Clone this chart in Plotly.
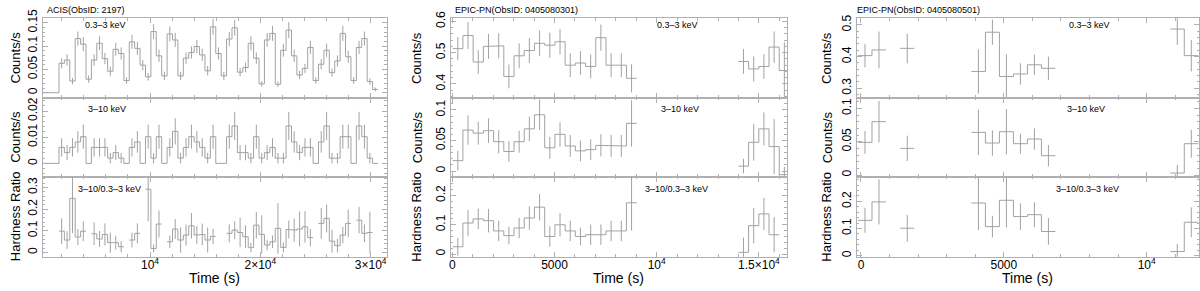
import plotly.graph_objects as go

# ---------------- DATA ----------------
# Panel 1: ACIS (ObsID: 2197), 490 s bins
p1_bin = 490
p1_pre_time = [0, 1750]      # zero level before the first bin
p1_pre_rate = [0, 0]
p1_time = [1995, 2485, 2975, 3465, 3955, 4445, 4935, 5425, 5915, 6405,
           6895, 7385, 7875, 8365, 8855, 9345, 9835, 10325, 10815, 11305,
           11795, 12285, 12775, 13265, 13755, 14245, 14735, 15225, 15715, 16205,
           16695, 17185, 17675, 18165, 18655, 19145, 19635, 20125, 20615, 21105,
           21595, 22085, 22575, 23065, 23555, 24045, 24535, 25025, 25515, 26005,
           26495, 26985, 27475, 27965, 28455, 28945, 29435, 29925, 30415]
p1_soft = [0.063, 0.070, 0.025, 0.116, 0.104, 0.029, 0.070, 0.106, 0.073, 0.046,
           0.093, 0.084, 0.026, 0.109, 0.095, 0.059, 0.034, 0.131, 0.079, 0.036,
           0.126, 0.113, 0.036, 0.074, 0.086, 0.099, 0.081, 0.047, 0.141, 0.084,
           0.036, 0.115, 0.139, 0.044, 0.054, 0.106, 0.074, 0.019, 0.113, 0.127,
           0.018, 0.091, 0.134, 0.079, 0.038, 0.052, 0.097, 0.026, 0.061, 0.091,
           0.043, 0.068, 0.127, 0.077, 0.026, 0.097, 0.116, 0.024, 0.007]
p1_soft_err = [0.011, 0.012, 0.007, 0.015, 0.015, 0.008, 0.012, 0.015, 0.012, 0.010,
               0.014, 0.013, 0.007, 0.015, 0.014, 0.011, 0.008, 0.016, 0.013, 0.009,
               0.016, 0.015, 0.009, 0.012, 0.013, 0.014, 0.013, 0.010, 0.017, 0.013,
               0.009, 0.015, 0.017, 0.009, 0.010, 0.015, 0.012, 0.006, 0.015, 0.016,
               0.006, 0.014, 0.017, 0.013, 0.009, 0.010, 0.014, 0.007, 0.011, 0.014,
               0.009, 0.012, 0.016, 0.013, 0.007, 0.014, 0.015, 0.007, 0.004]
p1_hard = [0.0061, 0.0041, 0.0061, 0.0082, 0.0102, 0, 0.0061, 0.0061, 0.0061, 0.0020,
           0.0041, 0.0020, 0, 0.0061, 0.0082, 0, 0.0102, 0.0020, 0.0102, 0,
           0.0061, 0.0122, 0.0020, 0.0061, 0.0102, 0.0082, 0.0061, 0.0020, 0.0102, 0,
           0, 0.0102, 0.0143, 0.0041, 0.0041, 0.0020, 0.0102, 0.0020, 0.0041, 0.0061,
           0.0020, 0.0020, 0.0143, 0.0082, 0.0041, 0.0061, 0.0061, 0, 0.0082, 0.0143,
           0.0020, 0.0020, 0.0102, 0.0102, 0, 0.0143, 0.0102, 0.0020, 0]
p1_hard_err = [0.0035, 0.0029, 0.0035, 0.0041, 0.0046, 0, 0.0035, 0.0035, 0.0035, 0.0020,
               0.0029, 0.0020, 0, 0.0035, 0.0041, 0, 0.0046, 0.0020, 0.0046, 0,
               0.0035, 0.0050, 0.0020, 0.0035, 0.0046, 0.0041, 0.0035, 0.0020, 0.0046, 0,
               0, 0.0046, 0.0054, 0.0029, 0.0029, 0.0020, 0.0046, 0.0020, 0.0029, 0.0035,
               0.0020, 0.0020, 0.0054, 0.0041, 0.0029, 0.0035, 0.0035, 0, 0.0041, 0.0054,
               0.0020, 0.0020, 0.0046, 0.0046, 0, 0.0054, 0.0046, 0.0020, 0]
p1_hr = [0.098, 0.057, 0.250, 0.071, 0.098, None, 0.086, 0.062, 0.083, 0.045,
         0.045, 0.026, None, 0.057, 0.088, None, 0.292, 0.018, 0.131, None,
         0.049, 0.108, 0.057, 0.080, 0.123, 0.080, 0.083, 0.057, 0.074, None,
         None, 0.088, 0.103, 0.092, 0.072, 0.022, 0.126, 0.083, 0.034, 0.049,
         0.111, 0.023, 0.106, 0.103, 0.108, 0.118, 0.068, None, 0.134, 0.157,
         0.052, 0.031, 0.080, 0.134, None, 0.149, 0.088, 0.092, None]
p1_hr_err = [0.059, 0.041, 0.161, 0.037, 0.046, None, 0.052, 0.037, 0.051, 0.046,
             0.032, 0.026, None, 0.034, 0.046, None, 0.149, 0.018, 0.063, None,
             0.029, 0.046, 0.059, 0.049, 0.059, 0.042, 0.050, 0.058, 0.035, None,
             None, 0.041, 0.041, 0.068, 0.053, 0.022, 0.061, 0.088, 0.024, 0.029,
             0.117, 0.023, 0.042, 0.054, 0.081, 0.073, 0.040, None, 0.071, 0.064,
             0.053, 0.031, 0.038, 0.064, None, 0.061, 0.041, 0.096, None]

# Panel 2: EPIC-PN (ObsID: 0405080301), 500 s bins
p2_bin = 500
p2_time = [270, 770, 1270, 1770, 2270, 2770, 3270, 3770, 4270, 4770, 5270, 5770,
           6270, 6770, 7270, 7770, 8270, 8770, 14245, 14745, 15245, 15745, 16245]
p2_soft = [0.513, 0.555, 0.470, 0.520, 0.522, 0.424, 0.490, 0.507, 0.530, 0.524,
           0.535, 0.460, 0.467, 0.456, 0.548, 0.460, 0.460, 0.418,
           0.472, 0.448, 0.456, 0.518, 0.443]
p2_soft_err = [0.037, 0.043, 0.038, 0.040, 0.040, 0.038, 0.040, 0.040, 0.041, 0.040,
               0.041, 0.038, 0.038, 0.038, 0.042, 0.038, 0.038, 0.045,
               0.040, 0.040, 0.040, 0.050, 0.090]
p2_hard = [0.017, 0.067, 0.062, 0.066, 0.048, 0.032, 0.048, 0.069, 0.092, 0.038,
           0.060, 0.041, 0.033, 0.035, 0.042, 0.041, 0.041, 0.078,
           0.008, 0.047, 0.069, 0.040, -0.006]
p2_hard_err = [0.016, 0.024, 0.019, 0.020, 0.019, 0.017, 0.018, 0.020, 0.025, 0.018,
               0.020, 0.018, 0.017, 0.017, 0.018, 0.018, 0.018, 0.038,
               0.012, 0.030, 0.027, 0.045, 0.013]
p2_hr = [0.025, 0.106, 0.120, 0.114, 0.079, 0.063, 0.089, 0.123, 0.160, 0.060,
         0.100, 0.079, 0.060, 0.066, 0.066, 0.079, 0.079, 0.175,
         0.006, 0.097, 0.137, 0.066, None]
p2_hr_err = [0.030, 0.045, 0.035, 0.040, 0.035, 0.030, 0.035, 0.040, 0.045, 0.035,
             0.040, 0.035, 0.030, 0.035, 0.035, 0.035, 0.035, 0.095,
             0.050, 0.060, 0.055, 0.060, None]

# Panel 3: EPIC-PN (ObsID: 0405080501), 490 s bins
p3_bin = 490
p3_time = [140, 630, 1620, 4110, 4600, 5090, 5580, 6070, 6560, 11070, 11560]
p3_soft = [0.403, 0.421, 0.426, 0.353, 0.477, 0.337, 0.345, 0.374, 0.363, 0.487, 0.403]
p3_soft_err = [0.037, 0.058, 0.047, 0.070, 0.040, 0.070, 0.034, 0.032, 0.037, 0.050, 0.050]
p3_hard = [0.049, 0.080, 0.040, 0.064, 0.048, 0.065, 0.047, 0.054, 0.029, 0.003, 0.047]
p3_hard_err = [0.017, 0.031, 0.019, 0.034, 0.019, 0.034, 0.015, 0.016, 0.016, 0.012, 0.021]
p3_hr = [0.130, 0.198, 0.101, 0.194, 0.107, 0.204, 0.144, 0.151, 0.089, 0.015, 0.123]
p3_hr_err = [0.046, 0.083, 0.049, 0.100, 0.040, 0.100, 0.049, 0.046, 0.049, 0.028, 0.055]

titles = ["ACIS(ObsID: 2197)", "EPIC-PN(ObsID: 0405080301)", "EPIC-PN(ObsID: 0405080501)"]
band_labels = ["0.3\u20133 keV", "3\u201310 keV", "3\u201310/0.3\u20133 keV"]
y_titles = ["Counts/s", "Counts/s", "Hardness Ratio"]
x_title = "Time (s)"

p1_xticks = [10000, 20000, 30000]
p1_xtext = ["10<sup>4</sup>", "2\u00d710<sup>4</sup>", "3\u00d710<sup>4</sup>"]
p2_xticks = [0, 5000, 10000, 15000]
p2_xtext = ["0", "5000", "10<sup>4</sup>", "1.5\u00d710<sup>4</sup>"]
p3_xticks = [0, 5000, 10000]
p3_xtext = ["0", "5000", "10<sup>4</sup>"]

p1_yticks = [[0, 0.05, 0.1, 0.15], [0, 0.01, 0.02], [0, 0.1, 0.2, 0.3]]
p2_yticks = [[0.4, 0.5, 0.6], [0, 0.05, 0.1], [0, 0.1, 0.2]]
p3_yticks = [[0.3, 0.4, 0.5], [0, 0.05, 0.1], [0, 0.1, 0.2]]

# ---------------- STYLE / LAYOUT ----------------
W, H = 1200, 291
LINE = "#a2a2a2"
FRAME = "#b0b0b0"
FONT = "Liberation Sans, Arial, Helvetica, sans-serif"

def px(x):
    return x / W

def py(y):
    return 1 - y / H

panels = [
    dict(time=p1_time, half=p1_bin / 2, pre=(p1_pre_time, p1_pre_rate),
         series=[(p1_soft, p1_soft_err), (p1_hard, p1_hard_err), (p1_hr, p1_hr_err)],
         xdom=[px(42.7), px(386.7)], xrange=[276, 31450],
         xticks=p1_xticks, xtext=p1_xtext, xminor=2000,
         yticks=p1_yticks, yminor=[0.01, 0.002, 0.02],
         yranges=[[-0.0107, 0.1594], [-0.0051, 0.0251], [-0.02, 0.35]],
         title_x=45, ytitle_x=15.5, band_x=[105.5, 107, 110]),
    dict(time=p2_time, half=p2_bin / 2, pre=None,
         series=[(p2_soft, p2_soft_err), (p2_hard, p2_hard_err), (p2_hr, p2_hr_err)],
         xdom=[px(450.7), px(786.7)], xrange=[-78, 16360],
         xticks=p2_xticks, xtext=p2_xtext, xminor=1000,
         yticks=p2_yticks, yminor=[0.02, 0.01, 0.02],
         yranges=[[0.356, 0.61], [-0.0093, 0.120], [-0.009, 0.264]],
         title_x=452.7, ytitle_x=417, band_x=[678, 680, 676]),
    dict(time=p3_time, half=p3_bin / 2, pre=None,
         series=[(p3_soft, p3_soft_err), (p3_hard, p3_hard_err), (p3_hr, p3_hr_err)],
         xdom=[px(856.7), px(1199)], xrange=[-150, 11830],
         xticks=p3_xticks, xtext=p3_xtext, xminor=1000,
         yticks=p3_yticks, yminor=[0.02, 0.01, 0.02],
         yranges=[[0.270, 0.521], [-0.0025, 0.116], [-0.004, 0.291]],
         title_x=855, ytitle_x=827, band_x=[1089, 1086, 1087.5]),
]

row_px = [(18.3, 97.7), (97.7, 176.7), (176.7, 256.7)]
band_y = [25, 108.5, 189]


def step_xy(t, v, half):
    xs, ys = [], []
    prev = None
    for ti, vi in zip(t, v):
        if vi is None:
            prev = None
            continue
        if prev is not None and (ti - prev) > 3 * half:
            xs.append(None)
            ys.append(None)
        elif prev is None and xs:
            xs.append(None)
            ys.append(None)
        xs += [ti - half, ti + half]
        ys += [vi, vi]
        prev = ti
    return xs, ys


fig = go.Figure()
layout = {}
annotations = []

for p, P in enumerate(panels):
    for r in range(3):
        k = p * 3 + r + 1
        xn = "x" if k == 1 else f"x{k}"
        yn = "y" if k == 1 else f"y{k}"
        vals, errs = P["series"][r]
        xs, ys = step_xy(P["time"], vals, P["half"])
        if P["pre"] is not None and r < 2:
            xs = list(P["pre"][0]) + xs
            ys = list(P["pre"][1]) + ys
        fig.add_trace(go.Scatter(x=xs, y=ys, mode="lines", xaxis=xn, yaxis=yn,
                                 line=dict(color=LINE, width=1),
                                 hoverinfo="skip", showlegend=False))
        fig.add_trace(go.Scatter(x=P["time"], y=vals, mode="markers", xaxis=xn, yaxis=yn,
                                 marker=dict(size=1, color="rgba(0,0,0,0)"),
                                 error_y=dict(type="data", array=errs, visible=True,
                                              width=0, thickness=1, color=LINE),
                                 hoverinfo="skip", showlegend=False))
        top, bot = row_px[r]
        xkey = "xaxis" if k == 1 else f"xaxis{k}"
        ykey = "yaxis" if k == 1 else f"yaxis{k}"
        layout[xkey] = dict(
            domain=P["xdom"], anchor=yn, range=P["xrange"], automargin=False,
            showline=True, mirror="ticks", linecolor=FRAME, linewidth=1,
            ticks="inside", ticklen=5, tickwidth=1, tickcolor=FRAME,
            tickmode="array", tickvals=P["xticks"],
            ticktext=P["xtext"], showticklabels=(r == 2),
            ticklabelstandoff=-3,
            tickfont=dict(family=FONT, size=12, color="black"),
            minor=dict(ticks="inside", ticklen=2.5, tickwidth=1, tickcolor=FRAME,
                       tickmode="linear", tick0=0, dtick=P["xminor"], showgrid=False),
            showgrid=False, zeroline=False, fixedrange=True)
        yt = P["yticks"][r]
        layout[ykey] = dict(
            domain=[py(bot), py(top)], anchor=xn, range=P["yranges"][r], automargin=False,
            showline=True, mirror="ticks", linecolor=FRAME, linewidth=1,
            ticks="inside", ticklen=5, tickwidth=1, tickcolor=FRAME,
            tickmode="array", tickvals=yt, ticktext=[f"{v:g}" for v in yt],
            tickangle=-90,
            tickfont=dict(family=FONT, size=12, color="black"),
            minor=dict(ticks="inside", ticklen=2.5, tickwidth=1, tickcolor=FRAME,
                       tickmode="linear", tick0=0, dtick=P["yminor"][r], showgrid=False),
            showgrid=False, zeroline=False, fixedrange=True)
        annotations.append(dict(x=px(P["band_x"][r]), y=py(band_y[r]), xref="paper", yref="paper",
                                text=band_labels[r], showarrow=False, xanchor="center", yanchor="middle",
                                font=dict(family=FONT, size=9, color="black")))
        annotations.append(dict(x=px(P["ytitle_x"]), y=py((top + bot) / 2), xref="paper", yref="paper",
                                text=y_titles[r], showarrow=False, textangle=-90,
                                xanchor="center", yanchor="middle",
                                font=dict(family=FONT, size=13, color="black")))
    annotations.append(dict(x=px(P["title_x"]), y=py(10.5), xref="paper", yref="paper",
                            text=titles[p], showarrow=False, xanchor="left", yanchor="middle",
                            font=dict(family=FONT, size=9, color="black")))
    annotations.append(dict(x=(P["xdom"][0] + P["xdom"][1]) / 2, y=py(278), xref="paper", yref="paper",
                            text=x_title, showarrow=False, xanchor="center", yanchor="middle",
                            font=dict(family=FONT, size=14, color="black")))

fig.update_layout(width=W, height=H, margin=dict(l=0, r=0, t=0, b=0, autoexpand=False),
                  paper_bgcolor="white", plot_bgcolor="white",
                  annotations=annotations, showlegend=False, **layout)

fig.write_html("out.html", config={"displayModeBar": False, "staticPlot": True},
               post_script="document.body.style.margin='0';document.body.style.padding='0';"
                           "document.body.style.overflow='hidden';")
